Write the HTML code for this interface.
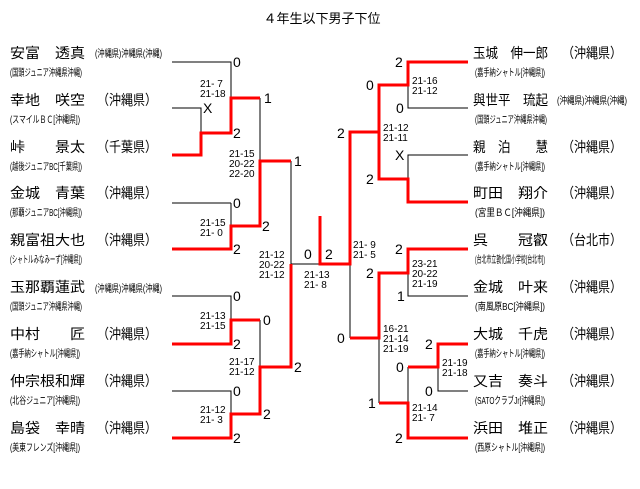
<!DOCTYPE html>
<html><head><meta charset="utf-8"><style>
html,body{margin:0;padding:0;background:#fff;}
svg{display:block;}
text{font-family:"Liberation Sans","Noto Sans CJK JP",sans-serif;fill:#000;}
.n{font-size:14px;}
.a{font-size:10px;fill:#555;}
.s{font-size:10px;}
.l{font-size:14px;}
.k{stroke:#000;stroke-width:1;fill:none;}
.r{stroke:#f00;stroke-width:3;fill:none;}
</style></head><body>
<svg width="640" height="489" viewBox="0 0 640 489" xmlns="http://www.w3.org/2000/svg">
<text x="322" y="23" text-anchor="middle" style="font-size:13px">４年生以下男子下位</text>

<g class="n">
<text x="10" y="58" textLength="75" lengthAdjust="spacingAndGlyphs">安富　透真</text>
<text x="10" y="105" textLength="75" lengthAdjust="spacingAndGlyphs">幸地　咲空</text>
<text x="10" y="152" textLength="75" lengthAdjust="spacingAndGlyphs">峠　　景太</text>
<text x="10" y="198" textLength="75" lengthAdjust="spacingAndGlyphs">金城　青葉</text>
<text x="10" y="245" textLength="75" lengthAdjust="spacingAndGlyphs">親富祖大也</text>
<text x="10" y="292" textLength="75" lengthAdjust="spacingAndGlyphs">玉那覇蓮武</text>
<text x="10" y="339" textLength="75" lengthAdjust="spacingAndGlyphs">中村　　匠</text>
<text x="10" y="386" textLength="75" lengthAdjust="spacingAndGlyphs">仲宗根和輝</text>
<text x="10" y="433" textLength="75" lengthAdjust="spacingAndGlyphs">島袋　幸晴</text>
<text x="97" y="105" textLength="60" lengthAdjust="spacingAndGlyphs">（沖縄県）</text>
<text x="97" y="152" textLength="60" lengthAdjust="spacingAndGlyphs">（千葉県）</text>
<text x="97" y="198" textLength="60" lengthAdjust="spacingAndGlyphs">（沖縄県）</text>
<text x="97" y="245" textLength="60" lengthAdjust="spacingAndGlyphs">（沖縄県）</text>
<text x="97" y="339" textLength="60" lengthAdjust="spacingAndGlyphs">（沖縄県）</text>
<text x="97" y="386" textLength="60" lengthAdjust="spacingAndGlyphs">（沖縄県）</text>
<text x="97" y="433" textLength="60" lengthAdjust="spacingAndGlyphs">（沖縄県）</text>
</g>
<g class="a">
<text x="95" y="57" textLength="67" lengthAdjust="spacingAndGlyphs">(沖縄県)沖縄県(沖縄)</text>
<text x="95" y="292" textLength="67" lengthAdjust="spacingAndGlyphs">(沖縄県)沖縄県(沖縄)</text>
<text x="10" y="76" textLength="72" lengthAdjust="spacingAndGlyphs">(国頭ジュニア沖縄県沖縄)</text>
<text x="10" y="123" textLength="70" lengthAdjust="spacingAndGlyphs">(スマイルＢＣ[沖縄県])</text>
<text x="10" y="170" textLength="72" lengthAdjust="spacingAndGlyphs">(越後ジュニアBC[千葉県])</text>
<text x="10" y="216" textLength="72" lengthAdjust="spacingAndGlyphs">(那覇ジュニアBC[沖縄県])</text>
<text x="10" y="263" textLength="72" lengthAdjust="spacingAndGlyphs">(シャトルみなみーず[沖縄県])</text>
<text x="10" y="310" textLength="72" lengthAdjust="spacingAndGlyphs">(国頭ジュニア沖縄県沖縄)</text>
<text x="10" y="357" textLength="70" lengthAdjust="spacingAndGlyphs">(嘉手納シャトル[沖縄県])</text>
<text x="10" y="404" textLength="70" lengthAdjust="spacingAndGlyphs">(北谷ジュニア[沖縄県])</text>
<text x="10" y="451" textLength="70" lengthAdjust="spacingAndGlyphs">(美東フレンズ[沖縄県])</text>
</g>

<g class="n">
<text x="473" y="58" textLength="75" lengthAdjust="spacingAndGlyphs">玉城　伸一郎</text>
<text x="473" y="105" textLength="75" lengthAdjust="spacingAndGlyphs">與世平　琉起</text>
<text x="473" y="152" textLength="75" lengthAdjust="spacingAndGlyphs">親　泊　　慧</text>
<text x="473" y="198" textLength="75" lengthAdjust="spacingAndGlyphs">町田　翔介</text>
<text x="473" y="245" textLength="75" lengthAdjust="spacingAndGlyphs">呉　　冠叡</text>
<text x="473" y="292" textLength="75" lengthAdjust="spacingAndGlyphs">金城　叶来</text>
<text x="473" y="339" textLength="75" lengthAdjust="spacingAndGlyphs">大城　千虎</text>
<text x="473" y="386" textLength="75" lengthAdjust="spacingAndGlyphs">又吉　奏斗</text>
<text x="473" y="433" textLength="75" lengthAdjust="spacingAndGlyphs">浜田　堆正</text>
<text x="562" y="58" textLength="60" lengthAdjust="spacingAndGlyphs">（沖縄県）</text>
<text x="562" y="152" textLength="60" lengthAdjust="spacingAndGlyphs">（沖縄県）</text>
<text x="562" y="198" textLength="60" lengthAdjust="spacingAndGlyphs">（沖縄県）</text>
<text x="562" y="245" textLength="60" lengthAdjust="spacingAndGlyphs">（台北市）</text>
<text x="562" y="292" textLength="60" lengthAdjust="spacingAndGlyphs">（沖縄県）</text>
<text x="562" y="339" textLength="60" lengthAdjust="spacingAndGlyphs">（沖縄県）</text>
<text x="562" y="386" textLength="60" lengthAdjust="spacingAndGlyphs">（沖縄県）</text>
<text x="562" y="433" textLength="60" lengthAdjust="spacingAndGlyphs">（沖縄県）</text>
</g>
<g class="a">
<text x="557" y="104" textLength="70" lengthAdjust="spacingAndGlyphs">(沖縄県)沖縄県(沖縄)</text>
<text x="475" y="76" textLength="70" lengthAdjust="spacingAndGlyphs">(嘉手納シャトル[沖縄県])</text>
<text x="475" y="123" textLength="72" lengthAdjust="spacingAndGlyphs">(国頭ジュニア沖縄県沖縄)</text>
<text x="475" y="170" textLength="70" lengthAdjust="spacingAndGlyphs">(嘉手納シャトル[沖縄県])</text>
<text x="475" y="216" textLength="70" lengthAdjust="spacingAndGlyphs">(宮里ＢＣ[沖縄県])</text>
<text x="475" y="263" textLength="70" lengthAdjust="spacingAndGlyphs">(台北市立敦化国小学校[台北市])</text>
<text x="475" y="310" textLength="70" lengthAdjust="spacingAndGlyphs">(南風原BC[沖縄県])</text>
<text x="475" y="357" textLength="70" lengthAdjust="spacingAndGlyphs">(嘉手納シャトル[沖縄県])</text>
<text x="475" y="404" textLength="70" lengthAdjust="spacingAndGlyphs">(SATOクラブJr[沖縄県])</text>
<text x="475" y="451" textLength="70" lengthAdjust="spacingAndGlyphs">(西原シャトル[沖縄県])</text>
</g>

<path class="k" d="M172 62H231V98 M172 108H201V133 M231 203V226 M172 203H231 M260 98V161 M172 296H231V320 M172 391H231V414 M260 320V367 M291 161V264H350"/>
<path class="r" d="M172 155H201V133H231V98H260 M172 249H231V226H260V161H291 M172 344H231V320H260 M172 438H231V414H260V367H291V264"/>
<path class="k" d="M468 108H408V85 M468 155H408V179 M379 85V132 M468 296H408V273 M468 391H438V367 M408 367V403 M379 338V403 M350 264V338"/>
<path class="r" d="M468 62H408V85H379V132 M468 202H408V179H379V132H350V264H320V216 M468 249H408V273H379V338H350 M468 344H438V367H408 M468 438H408V403H379"/>

<g class="l">
<text x="233" y="67">0</text>
<text x="203" y="113">X</text>
<text x="233" y="138">2</text>
<text x="264" y="103">1</text>
<text x="233" y="208">0</text>
<text x="262" y="231">2</text>
<text x="233" y="254">2</text>
<text x="294" y="166">1</text>
<text x="233" y="301">0</text>
<text x="263" y="325">0</text>
<text x="233" y="349">2</text>
<text x="233" y="396">0</text>
<text x="263" y="419">2</text>
<text x="233" y="443">2</text>
<text x="294" y="372">2</text>
<text x="304" y="259">0</text>
<text x="325" y="259">2</text>
<text x="395" y="67">2</text>
<text x="396" y="113">0</text>
<text x="366" y="90">0</text>
<text x="395" y="160">X</text>
<text x="366" y="184">2</text>
<text x="337" y="138">2</text>
<text x="395" y="254">2</text>
<text x="397" y="301">1</text>
<text x="366" y="278">2</text>
<text x="425" y="349">2</text>
<text x="425" y="396">0</text>
<text x="396" y="372">0</text>
<text x="395" y="443">2</text>
<text x="368" y="408">1</text>
<text x="337" y="343">0</text>
</g>

<g class="s">
<text x="200" y="87">21- 7</text><text x="200" y="97">21-18</text>
<text x="229" y="157">21-15</text><text x="229" y="167">20-22</text><text x="229" y="177">22-20</text>
<text x="200" y="226">21-15</text><text x="200" y="236">21- 0</text>
<text x="259" y="258">21-12</text><text x="259" y="268">20-22</text><text x="259" y="278">21-12</text>
<text x="304" y="278">21-13</text><text x="304" y="288">21- 8</text>
<text x="200" y="319">21-13</text><text x="200" y="329">21-15</text>
<text x="229" y="365">21-17</text><text x="229" y="375">21-12</text>
<text x="200" y="413">21-12</text><text x="200" y="423">21- 3</text>
<text x="353" y="248">21- 9</text><text x="353" y="258">21- 5</text>
<text x="412" y="84">21-16</text><text x="412" y="94">21-12</text>
<text x="383" y="131">21-12</text><text x="383" y="141">21-11</text>
<text x="412" y="267">23-21</text><text x="412" y="277">20-22</text><text x="412" y="287">21-19</text>
<text x="383" y="332">16-21</text><text x="383" y="342">21-14</text><text x="383" y="352">21-19</text>
<text x="442" y="366">21-19</text><text x="442" y="376">21-18</text>
<text x="412" y="411">21-14</text><text x="412" y="421">21- 7</text>
</g>
</svg>
</body></html>
